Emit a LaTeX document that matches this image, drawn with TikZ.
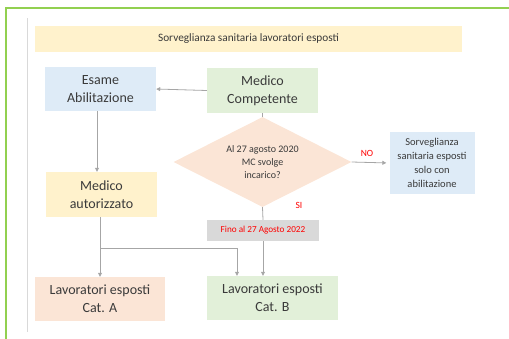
\documentclass[tikz,border=0pt]{standalone}
\usepackage{fontspec}
\setmainfont{Carlito}
\usetikzlibrary{shapes.geometric,arrows.meta}
\definecolor{tblue}{HTML}{DEEBF7}
\definecolor{tgreen}{HTML}{E2F0D9}
\definecolor{tyellow}{HTML}{FFF2CC}
\definecolor{tpeach}{HTML}{FBE5D6}
\definecolor{tgray}{HTML}{D9D9D9}
\definecolor{tline}{HTML}{A6A6A6}
\definecolor{ttext}{HTML}{3A3A3A}
\definecolor{tframe}{HTML}{92D050}
\definecolor{tred}{HTML}{FF0000}
\begin{document}
\begin{tikzpicture}[x=1pt,y=-1pt,
  box/.style={rectangle,inner sep=0pt,align=center,text=ttext,font=\fontsize{14}{18}\selectfont},
  smallbox/.style={rectangle,inner sep=0pt,align=center,text=ttext,font=\fontsize{10.5}{14}\selectfont},
  conn/.style={draw=tline,line width=0.8pt},
  arr/.style={conn,-{Triangle[width=4pt,length=4pt]}},
  lbl/.style={text=tred,font=\fontsize{9.5}{10}\selectfont,inner sep=0pt}]
\useasboundingbox (0,0) rectangle (509,338);
\draw[tframe,line width=2pt] (6,340) -- (6,8) -- (511,8);
\draw[tgray,line width=0.6pt] (27,18) -- (27,332);
\node[smallbox,fill=tyellow,minimum width=427pt,minimum height=26pt,font=\fontsize{11.3}{13}\selectfont] (title) at (248.5,39) {Sorveglianza sanitaria lavoratori esposti};
\node[box,fill=tblue,minimum width=111pt,minimum height=44pt] (esame) at (100.5,89) {Esame\\Abilitazione};
\node[box,fill=tgreen,minimum width=111pt,minimum height=45pt] (medcomp) at (262.5,90.5) {Medico\\Competente};
\node[diamond,aspect=2.2,inner sep=0pt,fill=tpeach,minimum width=178pt,minimum height=90pt,align=center,text=ttext,font=\fontsize{10}{13}\selectfont] (dia) at (262.5,162) {Al 27 agosto 2020\\MC svolge\\incarico?};
\node[smallbox,fill=tblue,minimum width=85pt,minimum height=62pt] (sorv) at (432,163) {Sorveglianza\\sanitaria esposti\\solo con\\abilitazione};
\node[box,fill=tyellow,minimum width=111pt,minimum height=45pt] (medaut) at (101.5,194.5) {Medico\\autorizzato};
\node[smallbox,fill=tgray,minimum width=112pt,minimum height=21pt,text=tred,font=\fontsize{9.2}{11}\selectfont] (fino) at (263,230.5) {Fino al 27 Agosto 2022};
\node[box,fill=tpeach,minimum width=130pt,minimum height=44pt] (cata) at (100,299) {Lavoratori esposti\\Cat. A};
\node[box,fill=tgreen,minimum width=131pt,minimum height=44pt] (catb) at (272.5,298) {Lavoratori esposti\\Cat. B};
\node[lbl] (no) at (367,153) {NO};
\node[lbl] (si) at (299,205) {SI};
\coordinate (branch) at (100,248);
\draw[arr] (medcomp.west) -- (esame.east);
\draw[conn] (medcomp.south) -- (dia.north);
\draw[arr,shorten >=3pt] (dia.east) -- (sorv.west);
\draw[conn] (dia.south) -- (fino.north);
\draw[arr] (fino.south) -- (fino.south |- catb.north);
\draw[arr] ([xshift=-3.5pt]esame.south) -- ([xshift=-3.5pt]esame.south |- medaut.north);
\draw[arr] ([xshift=-1.5pt]medaut.south) -- ([xshift=-1.5pt]medaut.south |- cata.north);
\draw[arr] (branch) -| ([xshift=-35.5pt]catb.north);
\end{tikzpicture}
\end{document}
